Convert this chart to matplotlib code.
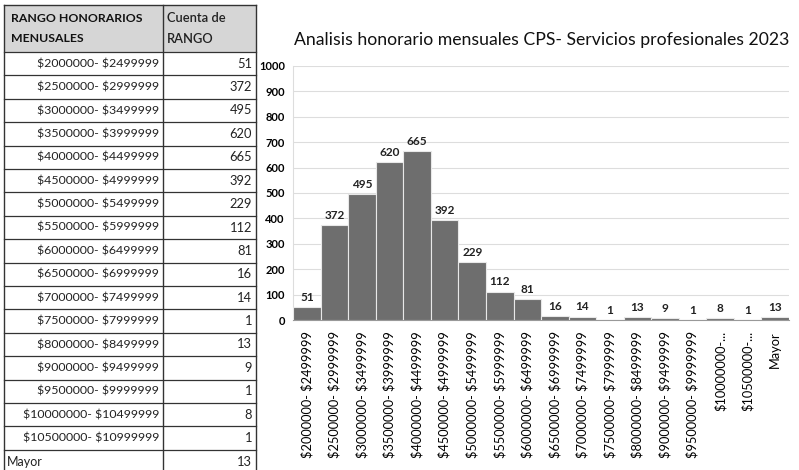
import matplotlib
matplotlib.use("Agg")
from matplotlib import pyplot as plt

# Datos de la tabla (rango de honorarios y cuenta)
rangos = [
    "$2000000- $2499999", "$2500000- $2999999", "$3000000- $3499999",
    "$3500000- $3999999", "$4000000- $4499999", "$4500000- $4999999",
    "$5000000- $5499999", "$5500000- $5999999", "$6000000- $6499999",
    "$6500000- $6999999", "$7000000- $7499999", "$7500000- $7999999",
    "$8000000- $8499999", "$9000000- $9499999", "$9500000- $9999999",
    "$10000000- $10499999", "$10500000- $10999999", "Mayor",
]
cuenta = [51, 372, 495, 620, 665, 392, 229, 112, 81, 16, 14, 1, 13, 9, 1, 8, 1, 13]

encabezado = ["RANGO HONORARIOS\nMENUSALES", "Cuenta de\nRANGO"]
titulo = "Analisis honorario mensuales CPS- Servicios profesionales 2023"

# etiquetas del eje: Excel corta las largas
etiquetas = [r if len(r) <= 18 else r.split(" ")[0] + "..." for r in rangos]

plt.rcParams['font.family'] = ['Lato', 'DejaVu Sans']
plt.rcParams['text.parse_math'] = False  # los $ son texto

fig = plt.figure(figsize=(7.99, 4.70), dpi=100)
fig.patch.set_facecolor("white")

# ---- Tabla (coordenadas en pixeles) ----
tab = fig.add_axes([0, 0, 1, 1])
tab.set_xlim(0, 799)
tab.set_ylim(470, 0)
tab.axis('off')

x0, x1, x2 = 4, 163, 256
y_top, y_head = 5, 52
fila = 23.4
n = len(rangos)
y_bot = y_head + n * fila

tab.add_patch(plt.Rectangle((x0, y_top), x2 - x0, y_head - y_top,
                            facecolor="#d6d6d6", edgecolor="none"))
tab.text(x0 + 7, (y_top + y_head) / 2, encabezado[0], ha="left", va="center",
         fontsize=8.8, fontweight="bold", linespacing=1.9, color="#111111")
tab.text(x1 + 4, (y_top + y_head) / 2, encabezado[1], ha="left", va="center",
         fontsize=9.3, fontweight="semibold", linespacing=1.9, color="#222222")

for i, (r, c) in enumerate(zip(rangos, cuenta)):
    yc = y_head + (i + 0.5) * fila
    if r == "Mayor":
        tab.text(x0 + 3, yc, r, ha="left", va="center", fontsize=9, color="#222222")
    else:
        tab.text(x1 - 4, yc, r, ha="right", va="center", fontsize=8.9, color="#222222")
    tab.text(x2 - 4, yc, str(c), ha="right", va="center", fontsize=9.3, color="#222222")

for i in range(n + 1):
    y = y_head + i * fila
    tab.plot([x0, x2], [y, y], color="#333333", lw=0.9)
tab.plot([x0, x2], [y_top, y_top], color="#333333", lw=1.0)
for x in (x0, x1, x2):
    tab.plot([x, x], [y_top, y_bot], color="#333333", lw=1.0)

# ---- Grafico ----
ax = fig.add_axes([0.367, 0.319, 0.6205, 0.541])
pos = list(range(n))
barras = ax.bar(pos, cuenta, width=1.0, color="#6e6e6e", edgecolor="#e8e8e8",
                linewidth=0.8, zorder=3)
for b, c in zip(barras, cuenta):
    ax.annotate(str(c), (b.get_x() + b.get_width() / 2, b.get_height()),
                xytext=(0, 3), textcoords="offset points", ha="center",
                va="bottom", fontsize=8.5, fontweight="bold", color="#222222")

ax.set_xlim(-0.5, n - 0.5)
ax.set_ylim(0, 1000)
ax.set_yticks(range(0, 1001, 100))
ax.set_xticks(pos)
ax.set_xticklabels(etiquetas, rotation=90, fontsize=9.2)
ax.tick_params(axis='y', labelsize=8, length=0, pad=6)
ax.tick_params(axis='x', length=0, pad=8)
for t in ax.get_yticklabels():
    t.set_fontweight("bold")
ax.grid(axis='y', color="#dddddd", lw=0.8, zorder=0)
for s in ("top", "right"):
    ax.spines[s].set_visible(False)
ax.spines["left"].set_color("#dddddd")
ax.spines["bottom"].set_color("#999999")

fig.text(0.678, 0.915, titulo, ha="center", va="center", fontsize=12.7, color="#111111")

fig.savefig("out.png", dpi=100)
